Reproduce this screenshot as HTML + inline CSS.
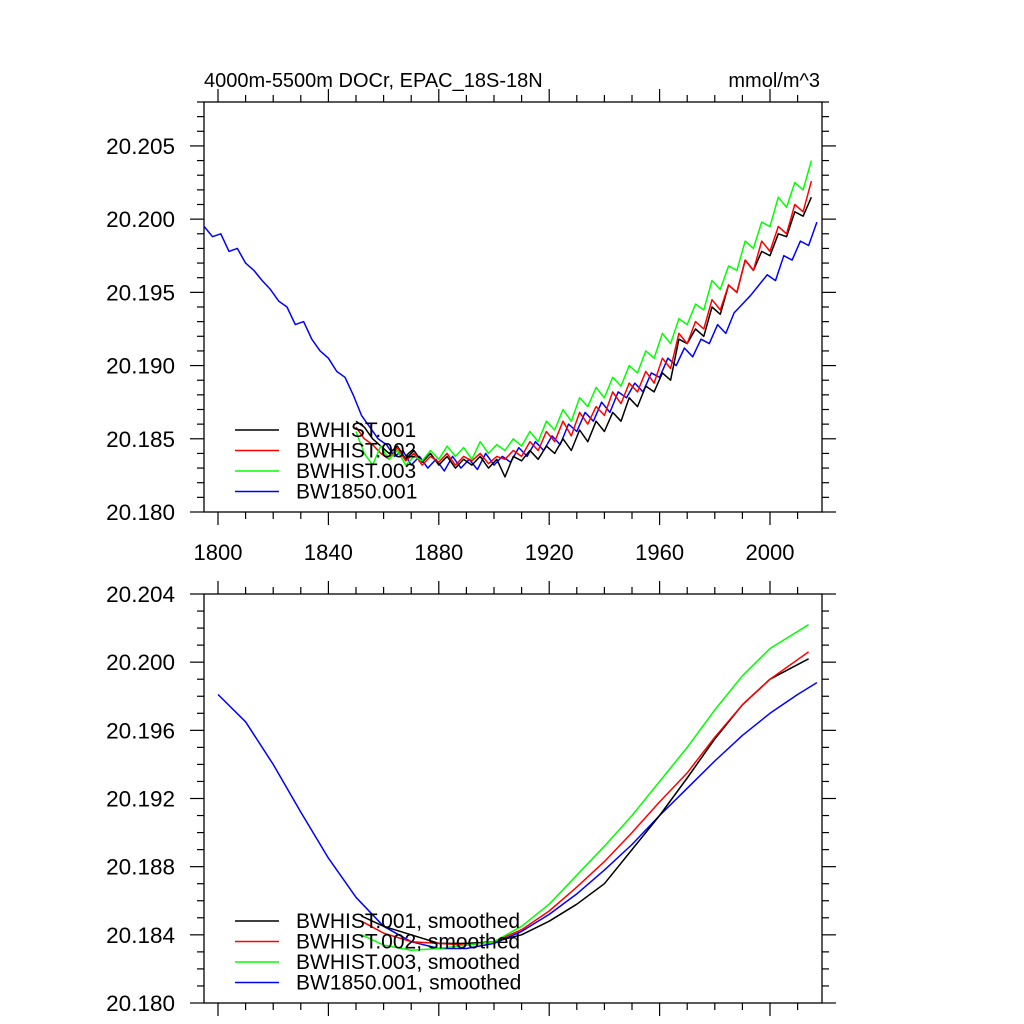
<!DOCTYPE html>
<html><head><meta charset="utf-8"><style>
body{margin:0;background:#fff}
svg{display:block;font-family:"Liberation Sans",sans-serif}
</style></head><body>
<svg id="chart" width="1024" height="1024" viewBox="0 0 1024 1024" xmlns="http://www.w3.org/2000/svg">
<rect width="1024" height="1024" fill="#fff"/>
<text x="204" y="87" font-size="20">4000m-5500m DOCr, EPAC_18S-18N</text>
<text x="820" y="87" font-size="20" text-anchor="end">mmol/m^3</text>
<g id="top"></g>
<g id="bot"></g>
</svg>
<script>
const xTickYears=[1800,1840,1880,1920,1960,2000];
const topYTicks=[20.180,20.185,20.190,20.195,20.200,20.205];
const topYLabels=["20.180","20.185","20.190","20.195","20.200","20.205"];
const botYTicks=[20.180,20.184,20.188,20.192,20.196,20.200,20.204];
const botYLabels=["20.180","20.184","20.188","20.192","20.196","20.200","20.204"];
const seriesNames=["BWHIST.001","BWHIST.002","BWHIST.003","BW1850.001"];
const seriesColors=["#000","#f00","#0f0","#00f"];
const rawStart=[1850,1850,1850,1795];
const rawStep=3;
const rawBlack=[.1862,.1858,.1850,.1845,.1840,.1845,.1836,.1842,.1834,.1840,.1832,.1838,.1830,.1836,.1832,.1838,.1830,.1836,.1824,.1838,.1835,.1842,.1836,.1845,.1840,.1850,.1842,.1856,.1848,.1862,.1855,.1868,.1862,.1878,.1872,.1886,.1882,.1895,.1890,.1918,.1915,.1925,.1920,.1940,.1935,.1955,.1950,.1972,.1965,.1978,.1975,.1990,.1988,.2005,.2002,.2015];
const rawRed=[.1858,.1850,.1846,.1840,.1836,.1844,.1835,.1840,.1832,.1838,.1834,.1840,.1832,.1838,.1835,.1840,.1833,.1838,.1836,.1842,.1838,.1848,.1842,.1855,.1848,.1862,.1852,.1868,.1860,.1872,.1866,.1882,.1874,.1888,.1882,.1896,.1888,.1905,.1898,.1922,.1915,.1930,.1925,.1945,.1938,.1955,.1950,.1972,.1965,.1985,.1978,.1995,.1990,.2010,.2005,.2026];
const rawGreen=[.1855,.1840,.1832,.1845,.1836,.1842,.1832,.1838,.1835,.1842,.1836,.1845,.1838,.1844,.1836,.1848,.1840,.1846,.1842,.1850,.1845,.1855,.1848,.1862,.1856,.1870,.1862,.1878,.1872,.1885,.1878,.1892,.1886,.1900,.1895,.1910,.1905,.1922,.1915,.1932,.1928,.1942,.1938,.1958,.1952,.1968,.1965,.1985,.1980,.1998,.1995,.2015,.2008,.2025,.2020,.2040];
const rawBlue=[.1995,.1988,.1990,.1978,.1980,.1970,.1965,.1958,.1952,.1944,.1940,.1928,.1930,.1918,.1910,.1905,.1896,.1892,.1880,.1866,.1858,.1850,.1846,.1838,.1842,.1832,.1838,.1830,.1836,.1828,.1838,.1830,.1836,.1829,.1840,.1832,.1838,.1834,.1844,.1838,.1848,.1842,.1852,.1846,.1860,.1855,.1868,.1862,.1875,.1868,.1882,.1878,.1888,.1882,.1895,.1892,.1905,.1900,.1912,.1906,.1918,.1915,.1928,.1922,.1936,.1942,.1948,.1955,.1962,.1958,.1975,.1972,.1985,.1982,.1998];
const smYearsHist=[1852,1860,1870,1880,1890,1900,1910,1920,1930,1940,1950,1960,1970,1980,1990,2000,2014];
const smBlack=[.1851,.1845,.1840,.1835,.1835,.1836,.1840,.1848,.1858,.1870,.1890,.1910,.1932,.1955,.1975,.1990,.2002];
const smRed=[.1848,.1841,.1836,.1835,.1834,.1836,.1843,.1854,.1868,.1883,.1900,.1918,.1935,.1956,.1975,.1990,.2006];
const smGreen=[.1840,.1834,.1831,.1832,.1834,.1836,.1845,.1858,.1875,.1892,.1910,.1930,.1950,.1972,.1992,.2008,.2022];
const smYearsBlue=[1800,1810,1820,1830,1840,1850,1860,1870,1880,1890,1900,1910,1920,1930,1940,1950,1960,1970,1980,1990,2000,2010,2017];
const smBlue=[.1981,.1965,.1940,.1912,.1885,.1862,.1845,.1836,.1832,.1832,.1835,.1842,.1852,.1864,.1878,.1893,.1910,.1926,.1942,.1957,.1970,.1981,.1988];

const NS="http://www.w3.org/2000/svg";
const L=204,R=822;
function xS(yr){return 218+(yr-1800)*2.76;}
function mk(tag,attrs,parent){const e=document.createElementNS(NS,tag);for(const k in attrs)e.setAttribute(k,attrs[k]);parent.appendChild(e);return e;}

function panel(g,top,bot,vmin,vmax,yTicks,yLabels,minorStep,showX,prefix){
  const yS=v=>bot-(v-vmin)/(vmax-vmin)*(bot-top);
  const f=mk('rect',{x:L,y:top,width:R-L,height:bot-top,fill:'none',stroke:'#000','stroke-width':1.3},g);
  
  
  for(let yr=1800;yr<=2010;yr+=10){
    const maj=(yr-1800)%40===0, len=maj?13:7;
    const t1=mk('line',{x1:xS(yr),x2:xS(yr),y1:bot,y2:bot+len,stroke:'#000','stroke-width':1.2},g);
    
    
    const t2=mk('line',{x1:xS(yr),x2:xS(yr),y1:top,y2:top-len,stroke:'#000','stroke-width':1.2},g);
    
    
  }
  if(showX){xTickYears.forEach(yr=>{
    const t=mk('text',{x:xS(yr),y:560,'font-size':22,'text-anchor':'middle'},g);t.textContent=yr;
    
    
  });}
  const n=Math.floor((vmax-vmin)/minorStep+1e-6);
  for(let i=0;i<=n;i++){
    const v=vmin+i*minorStep, y=yS(v);
    const maj=yTicks.some(t=>Math.abs(t-v)<1e-7), len=maj?14:7;
    const a=mk('line',{x1:L-len,x2:L,y1:y,y2:y,stroke:'#000','stroke-width':1.2},g);
    
    
    const b=mk('line',{x1:R,x2:R+len,y1:y,y2:y,stroke:'#000','stroke-width':1.2},g);
    
    
  }
  yTicks.forEach((v,i)=>{
    const t=mk('text',{x:175,y:yS(v)+8,'font-size':22.5,'text-anchor':'end'},g);t.textContent=yLabels[i];
    
    
  });
  return yS;
}
function line(g,xs,vals,color,yS,name){
  const pts=vals.map((v,i)=>xS(xs[i]).toFixed(1)+','+yS(20.18+v-0.18).toFixed(1)).join(' ');
  const p=mk('polyline',{points:pts,fill:'none',stroke:color,'stroke-width':1.5,'stroke-linejoin':'round'},g);
  
  
}
function legend(g,y0,suffix,prefix){
  seriesNames.forEach((n,i)=>{
    const y=y0+i*20.5;
    const l=mk('line',{x1:235,x2:279,y1:y,y2:y,stroke:seriesColors[i],'stroke-width':1.5},g);
    
    
    const t=mk('text',{x:296,y:y+7,'font-size':21},g);t.textContent=n+suffix;
    
    
  });
}
const gt=document.getElementById('top'), gb=document.getElementById('bot');
const yT=panel(gt,102,512,20.180,20.208,topYTicks,topYLabels,0.001,true,'top');
const raws=[rawBlack,rawRed,rawGreen,rawBlue];
const rawNames=['line-bwhist-001','line-bwhist-002','line-bwhist-003','line-bw1850-001'];
[3,0,1,2].forEach(i=>{
  const xs=raws[i].map((_,k)=>rawStart[i]+k*rawStep);
  line(gt,xs,raws[i],seriesColors[i],yT,rawNames[i]);
});
legend(gt,430,'','top');
const yB=panel(gb,594,1003,20.180,20.204,botYTicks,botYLabels,0.001,false,'bottom');
line(gb,smYearsBlue,smBlue,seriesColors[3],yB,'smoothed-bw1850-001');
line(gb,smYearsHist,smBlack,seriesColors[0],yB,'smoothed-bwhist-001');
line(gb,smYearsHist,smRed,seriesColors[1],yB,'smoothed-bwhist-002');
line(gb,smYearsHist,smGreen,seriesColors[2],yB,'smoothed-bwhist-003');
legend(gb,921,', smoothed','bottom');
</script>
</body></html>
